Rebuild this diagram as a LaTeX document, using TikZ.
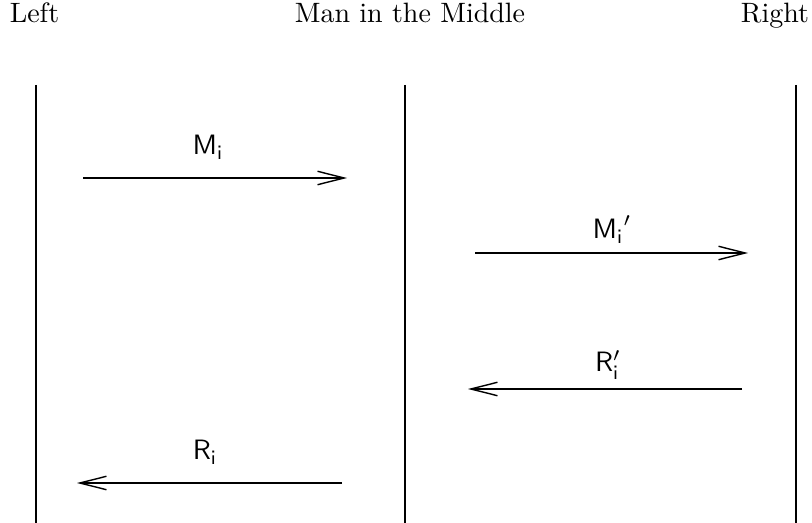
\documentclass[tikz,border=0pt]{standalone}
\usepackage{amsmath, amssymb}
\usepackage{tikz}
\usetikzlibrary{positioning, arrows.meta}

\begin{document}
\begin{tikzpicture}[
  x=0.357pt, y=-0.357pt,
  party/.style={inner sep=0pt, anchor=base},
  lifeline/.style={draw=black, line width=0.5pt},
  msg/.style={draw=black, line width=0.5pt, -{Straight Barb[length=9.5pt, width=4.8pt, line width=0.5pt]}},
  msglabel/.style={inner sep=0pt, anchor=base}
]
\useasboundingbox (0,0) rectangle (812,523);

\node[party] (left) at (34.5,23) {Left};
\node[party] (mitm) at (410,23) {Man in the Middle};
\node[party] (right) at (775,23) {Right};

\coordinate (leftTop) at (36,85);   \coordinate (leftBot) at (36,523);
\coordinate (mitmTop) at (405,85);  \coordinate (mitmBot) at (405,523);
\coordinate (rightTop) at (796,85); \coordinate (rightBot) at (796,523);
\draw[lifeline] (leftTop) -- (leftBot);
\draw[lifeline] (mitmTop) -- (mitmBot);
\draw[lifeline] (rightTop) -- (rightBot);

\coordinate (mA) at (83,178);  \coordinate (mB) at (347,178);
\coordinate (mC) at (475,253); \coordinate (mD) at (748,253);
\coordinate (rC) at (742,389); \coordinate (rD) at (468,389);
\coordinate (rA) at (342,483); \coordinate (rB) at (77,483);

\draw[msg] (mA) -- (mB);
\draw[msg] (mC) -- (mD);
\draw[msg] (rC) -- (rD);
\draw[msg] (rA) -- (rB);

\node[msglabel] (lblM)  at (208,155) {$\mathsf{M_i}$};
\node[msglabel] (lblMp) at (612,239) {$\mathsf{{M_i}'}$};
\node[msglabel] (lblRp) at (608,372) {$\mathsf{R'_i}$};
\node[msglabel] (lblR)  at (205,460) {$\mathsf{R_i}$};
\end{tikzpicture}
\end{document}
